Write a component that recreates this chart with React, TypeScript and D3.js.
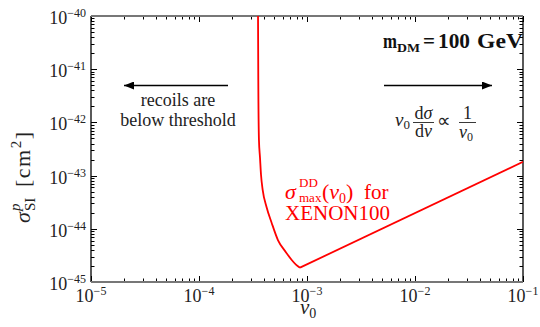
import React from 'react';
import * as d3 from 'd3';

// Red curve: maximal DD cross section for XENON100 vs v0
const v0Left = [3.50e-4, 3.52e-4, 3.54e-4, 3.59e-4, 3.67e-4, 3.75e-4, 3.89e-4, 4.22e-4, 4.71e-4, 5.38e-4, 6.40e-4, 7.22e-4, 7.90e-4, 8.61e-4];
const sigmaLeft = [1e-39, 1e-40, 6.27e-42, 4.67e-43, 2.2e-43, 1.05e-43, 5.36e-44, 2.57e-44, 1.29e-44, 6.15e-45, 3.6e-45, 2.59e-45, 2.12e-45, 1.86e-45];
const v0Right = [8.61e-4, 0.1];
const sigmaRight = [1.86e-45, 1.82e-43];

const xDomain: [number, number] = [1e-5, 1e-1];
const yDomain: [number, number] = [1e-45, 1e-40];
const xTickExps = [-5, -4, -3, -2, -1];
const yTickExps = [-45, -44, -43, -42, -41, -40];

const FONT = "'Liberation Serif'";

export default function App() {
  const W = 540, H = 327;
  const L = 91, R = 523, T = 16, B = 282;
  const x = d3.scaleLog().domain(xDomain).range([L, R]);
  const y = d3.scaleLog().domain(yDomain).range([B, T]);

  const mk = (xs: number[], curve: d3.CurveFactory) =>
    d3.line<number>().x((_, i) => x(xs[i])).y((d) => y(d)).curve(curve);

  const isMajor = (v: number) => Math.abs(Math.log10(v) - Math.round(Math.log10(v))) < 1e-9;
  const xt = x.ticks();
  const yt = y.ticks();
  const ts = { fontFamily: FONT };

  return (
    <svg width={W} height={H} style={{ position: 'absolute', left: 0, top: 0, background: '#fff' }}>
      <defs>
        <clipPath id="plotClip">
          <rect x={L} y={T} width={R - L} height={B - T} />
        </clipPath>
        <marker id="ah" viewBox="0 0 10 8" refX="10" refY="4" markerWidth="10" markerHeight="8" markerUnits="userSpaceOnUse" orient="auto">
          <path d="M0,0 L10,4 L0,8 Z" fill="#000" />
        </marker>
      </defs>
      <rect x={0} y={0} width={W} height={H} fill="#fff" />

      {/* ticks */}
      {xt.map((v, i) => {
        const len = isMajor(v) ? 6 : 3.5;
        const px = Math.round(x(v)) + 0.5;
        return (
          <g key={'xt' + i} stroke="#000" strokeWidth={1}>
            <line x1={px} x2={px} y1={B} y2={B - len} />
            <line x1={px} x2={px} y1={T} y2={T + len} />
          </g>
        );
      })}
      {yt.map((v, i) => {
        const len = isMajor(v) ? 6 : 3.5;
        const py = Math.round(y(v)) + 0.5;
        return (
          <g key={'yt' + i} stroke="#000" strokeWidth={1}>
            <line x1={L} x2={L + len} y1={py} y2={py} />
            <line x1={R} x2={R - len} y1={py} y2={py} />
          </g>
        );
      })}

      {/* frame */}
      <line x1={L} x2={L} y1={T} y2={B} stroke="#000" strokeWidth={1.3} />
      <line x1={R} x2={R} y1={T} y2={B} stroke="#000" strokeWidth={1.3} />
      <line x1={L} x2={R} y1={T} y2={T} stroke="#777" strokeWidth={2} />
      <line x1={L} x2={R} y1={B} y2={B} stroke="#777" strokeWidth={2} />

      {/* curve */}
      <g clipPath="url(#plotClip)" fill="none" stroke="#ff0000" strokeWidth={1.8} strokeLinejoin="round">
        <path d={mk(v0Left, d3.curveMonotoneX)(sigmaLeft) || ''} />
        <path d={mk(v0Right, d3.curveLinear)(sigmaRight) || ''} />
      </g>

      <g style={ts}>
        {/* tick labels */}
        {xTickExps.map((e) => (
          <text key={'xl' + e} x={x(Math.pow(10, e))} y={302} textAnchor="middle" fontSize={18} fill="#222" style={ts}>
            10<tspan dy={-7} fontSize={12}>{'\u2212' + Math.abs(e)}</tspan>
          </text>
        ))}
        {yTickExps.map((e) => (
          <text key={'yl' + e} x={86} y={y(Math.pow(10, e)) + 8} textAnchor="end" fontSize={18} fill="#222" style={ts}>
            10<tspan dy={-7} fontSize={12}>{'\u2212' + Math.abs(e)}</tspan>
          </text>
        ))}

        {/* axis labels */}
        <text x={300} y={314} fontSize={21} fontStyle="italic" fill="#222" style={ts}>v<tspan dy={4} fontSize={14} fontStyle="normal">0</tspan></text>
        <g transform="translate(30,167) rotate(-90)" fill="#222">
          <text x={-56} y={0} fontSize={22} fontStyle="italic" style={ts}>σ</text>
          <text x={-44} y={5} fontSize={15} style={ts}>SI</text>
          <text x={-44} y={-10} fontSize={15} fontStyle="italic" style={ts}>p</text>
          <text x={-20} y={0} fontSize={22} letterSpacing={1.5} style={ts}>[cm<tspan dy={-9} fontSize={15}>2</tspan><tspan dy={9}>]</tspan></text>
        </g>

        {/* m_DM label */}
        <g fontWeight="bold" fill="#111">
          <text x={383} y={48} fontSize={20} textLength={14} lengthAdjust="spacingAndGlyphs" style={ts}>m</text>
          <text x={397} y={52} fontSize={13} textLength={23} lengthAdjust="spacingAndGlyphs" style={ts}>DM</text>
          <text x={423} y={48} fontSize={20} textLength={12} lengthAdjust="spacingAndGlyphs" style={ts}>=</text>
          <text x={438} y={48} fontSize={20} textLength={32} lengthAdjust="spacingAndGlyphs" style={ts}>100</text>
          <text x={477} y={48} fontSize={20} textLength={46} lengthAdjust="spacingAndGlyphs" style={ts}>GeV</text>
        </g>

        {/* left annotation */}
        <line x1={228} y1={85.5} x2={124} y2={85.5} stroke="#000" strokeWidth={1.5} markerEnd="url(#ah)" />
        <text x={178} y={106} fontSize={18} textAnchor="middle" fill="#222" style={ts}>recoils are</text>
        <text x={178} y={126} fontSize={18} textAnchor="middle" fill="#222" style={ts}>below threshold</text>

        {/* right annotation */}
        <line x1={384} y1={85.5} x2={492} y2={85.5} stroke="#000" strokeWidth={1.5} markerEnd="url(#ah)" />
        <g fill="#222">
          <text x={395} y={126} fontSize={19} fontStyle="italic" style={ts}>v<tspan dy={3} fontSize={13} fontStyle="normal">0</tspan></text>
          <text x={423.5} y={119} fontSize={18} textAnchor="middle" style={ts}>d<tspan fontStyle="italic">σ</tspan></text>
          <line x1={413} x2={434} y1={122.5} y2={122.5} stroke="#222" strokeWidth={0.9} />
          <text x={423.5} y={137} fontSize={18} textAnchor="middle" style={ts}>d<tspan fontStyle="italic">v</tspan></text>
          <text x={444} y={127} fontSize={19} textAnchor="middle" style={ts}>∝</text>
          <text x={467.5} y={119} fontSize={18} textAnchor="middle" style={ts}>1</text>
          <line x1={459} x2={476} y1={122.5} y2={122.5} stroke="#222" strokeWidth={0.9} />
          <text x={466} y={138} fontSize={18} textAnchor="middle" fontStyle="italic" style={ts}>v<tspan dy={3} fontSize={12} fontStyle="normal">0</tspan></text>
        </g>

        {/* red label */}
        <g fill="#ff0000">
          <text x={285} y={199} fontSize={22} fontStyle="italic" style={ts}>σ</text>
          <text x={299} y={187} fontSize={13} style={ts}>DD</text>
          <text x={299} y={202} fontSize={13} style={ts}>max</text>
          <text x={322} y={199} fontSize={22} style={ts}>(<tspan fontStyle="italic">v</tspan><tspan dy={4} fontSize={14}>0</tspan><tspan dy={-4}>)</tspan></text>
          <text x={364} y={199} fontSize={21} style={ts}>for</text>
          <text x={285} y={220} fontSize={21} textLength={105} lengthAdjust="spacing" style={ts}>XENON100</text>
        </g>
      </g>
    </svg>
  );
}
